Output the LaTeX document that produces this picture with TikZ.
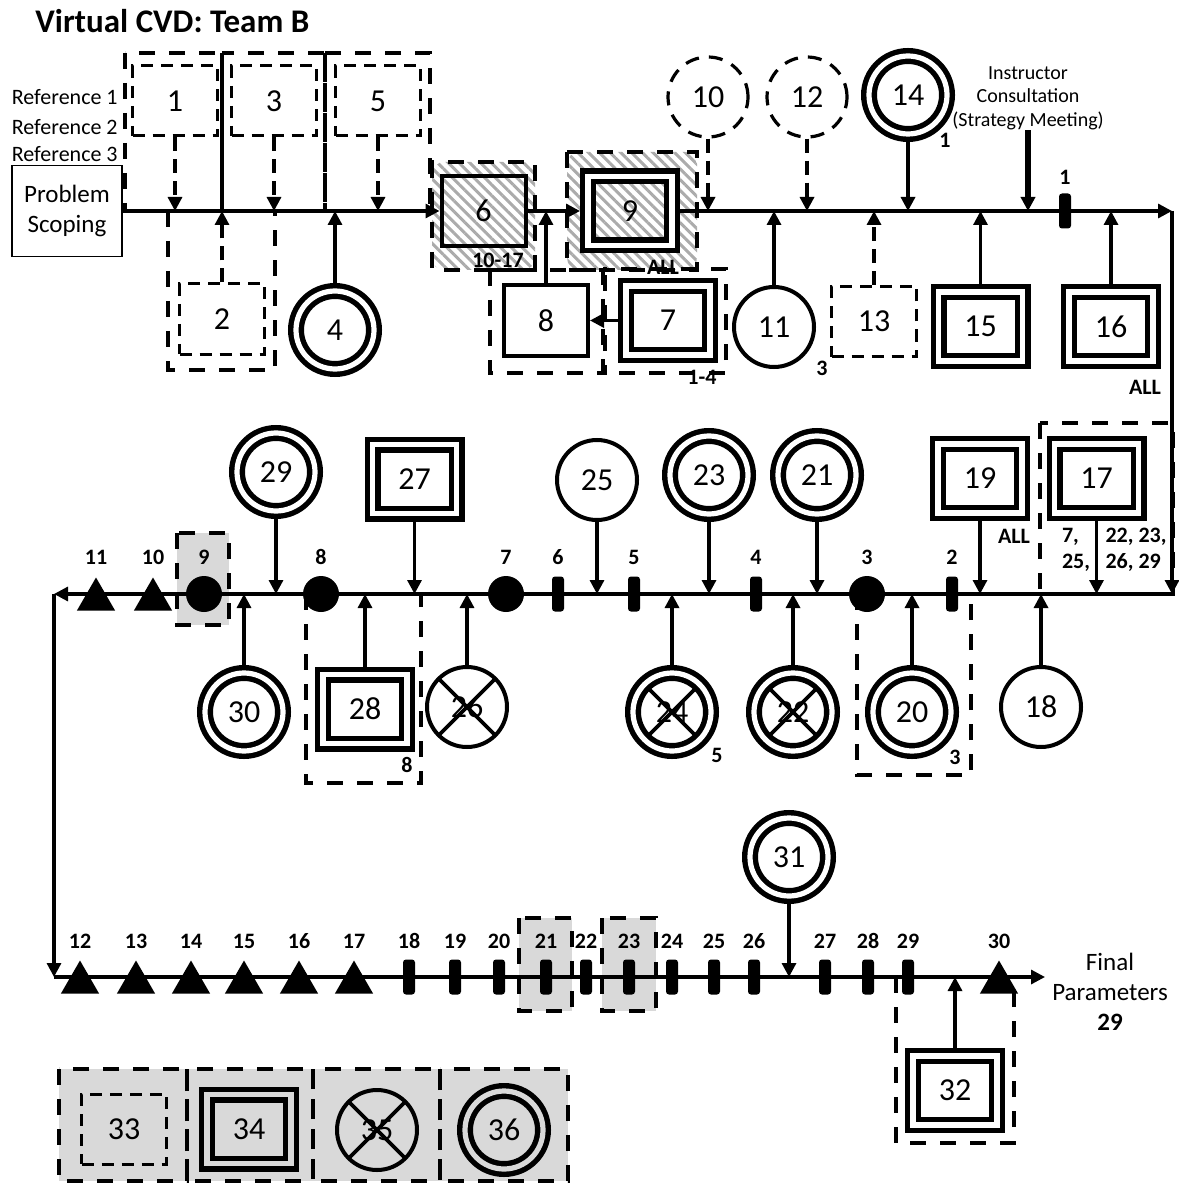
\documentclass[tikz,border=0pt]{standalone}
\usepackage{fontspec}
\setmainfont{Carlito}
\usetikzlibrary{arrows.meta,shapes.geometric,patterns.meta}

\begin{document}
\begin{tikzpicture}[x=.5pt,y=-.5pt,
  every node/.style={inner sep=0pt},
  num/.style={font=\fontsize{16}{18}\selectfont},
  lbl/.style={font=\bfseries\fontsize{11}{13}\selectfont},
  sbox/.style={num,draw,line width=2pt,minimum width=42pt,minimum height=35pt},
  dbox/.style={num,draw,line width=2.7pt,double,double distance=2.6pt,minimum width=42pt,minimum height=34.5pt,outer sep=4pt},
  hbox/.style={num,draw,line width=1.5pt,dash pattern=on 6pt off 4pt,minimum width=42.5pt,minimum height=35pt},
  scirc/.style={num,circle,draw,line width=2pt,minimum size=40pt},
  dcirc/.style={num,circle,draw,line width=2.7pt,double,double distance=2.6pt,minimum size=39pt,outer sep=4pt},
  hcirc/.style={scirc,line width=1.6pt,dash pattern=on 7pt off 5pt},
  xcirc/.style={path picture={\draw[line width=1.8pt] (path picture bounding box.north west) -- (path picture bounding box.south east) (path picture bounding box.north east) -- (path picture bounding box.south west);}},
  tk/.style={fill,rounded corners=1.5pt,minimum width=6pt,minimum height=17.5pt},
  blob/.style={circle,fill,minimum size=18pt},
  tri/.style={regular polygon,regular polygon sides=3,fill,minimum size=22pt,yshift=-2.75pt},
  arr/.style={line width=1.6pt,-{Triangle[length=7pt,width=7pt]}},
  darr/.style={arr,dash pattern=on 7pt off 4pt},
  grp/.style={line width=2.4pt,dash pattern=on 8pt off 7pt},
  hatch/.style={pattern={Lines[angle=-45,distance=3.8pt,line width=1.5pt]},pattern color=black!33},
  greyfill/.style={fill=black!15}]
  \useasboundingbox (0,0) rectangle (1178,1187);

  % backgrounds
  \fill[hatch,rounded corners=6pt] (432,162) rectangle (535,270);
  \fill[hatch,rounded corners=6pt] (567,152) rectangle (697,270);
  \fill[greyfill] (177,533) rectangle (229,625);
  \fill[greyfill] (519,918) rectangle (572,1011); \fill[greyfill] (602,918) rectangle (656,1011);
  \foreach \a/\b in {59/187,187/313,313/440,440/568} {\fill[greyfill] (\a,1069) rectangle (\b,1181);}

  \node[font=\bfseries\fontsize{16.5}{19}\selectfont,anchor=west] (title) at (35,21) {Virtual CVD: Team B};

  % first line
  \node[draw,line width=.8pt,minimum width=55pt,minimum height=45.5pt,align=center,font=\fontsize{12.5}{15}\selectfont] (scope) at (67,211) {Problem\\Scoping};
  \node[anchor=east,font=\fontsize{11}{13}\selectfont] (ref1) at (118,97) {Reference 1};
  \node[anchor=east,font=\fontsize{11}{13}\selectfont] (ref2) at (118,127) {Reference 2};
  \node[anchor=east,font=\fontsize{11}{13}\selectfont] (ref3) at (118,154) {Reference 3};
  \node[hbox] (n1) at (175,101) {1};
  \node[hbox] (n2) at (222,319) {2};
  \node[hbox] (n3) at (274,101) {3};
  \node[dcirc] (n4) at (335,330) {4};
  \node[hbox] (n5) at (378,101) {5};
  \node[sbox] (n6) at (483.5,211) {6};
  \node[dbox] (n7) at (668,320.5) {7};
  \node[sbox] (n8) at (546,320.5) {8};
  \node[dbox] (n9) at (630,211) {9};
  \node[hcirc] (n10) at (708,97) {10};
  \node[scirc] (n11) at (774,327) {11};
  \node[hcirc] (n12) at (807,97) {12};
  \node[hbox] (n13) at (874,321.5) {13};
  \node[dcirc] (n14) at (908,95) {14};
  \node[dbox] (n15) at (980.5,326.5) {15};
  \node[dbox] (n16) at (1111,326.5) {16};
  \node[align=center,font=\fontsize{10}{11.75}\selectfont] (instr) at (1028,98) {Instructor\\Consultation\\(Strategy Meeting)};
  \coordinate (c1) at (1172,211);
  \draw[arr] (scope) -- (n6); \draw[arr] (n6) -- (n9); \draw[arr] (n9) -- (c1);
  \node[tk] (m1) at (1065,211) {}; \node[lbl] (k1) at (1065,177) {1};
  \draw[darr] (n1) -- (n1 |- c1); \draw[darr] (n2) -- (n2 |- c1); \draw[darr] (n3) -- (n3 |- c1);
  \draw[arr] (n4) -- (n4 |- c1); \draw[darr] (n5) -- (n5 |- c1);
  \draw[arr] (n7) -- (n8); \draw[arr] (n8) -- (n8 |- c1);
  \draw[darr] (n10) -- (n10 |- c1); \draw[arr] (n11) -- (n11 |- c1);
  \draw[darr] (n12) -- (n12 |- c1); \draw[darr] (n13) -- (n13 |- c1);
  \draw[arr] (n14) -- (n14 |- c1); \draw[arr,line width=3pt] (instr) -- (instr |- c1);
  \draw[arr] (n15) -- (n15 |- c1); \draw[arr] (n16) -- (n16 |- c1);
  \node[lbl] (l6) at (498,260) {10-17}; \node[lbl] (l9) at (663,267) {ALL};
  \node[lbl] (l7) at (702,377) {1-4}; \node[lbl] (l11) at (822,368) {3};
  \node[lbl] (l14) at (945,140) {1}; \node[lbl] (l16) at (1145,387) {ALL};
  \draw[grp] (125,53) rectangle (222,211); \draw[grp] (222,53) rectangle (325,211);
  \draw[line width=2.4pt] (222,53) -- (222,211);
  \draw[grp] (325,53) rectangle (430,211); \draw[grp] (168,211) rectangle (275,370);
  \draw[grp] (432,162) rectangle (535,270); \draw[grp] (567,152) rectangle (697,270);
  \draw[grp] (490,270) rectangle (605,373); \draw[grp] (603,269) rectangle (726,373);

  % second line
  \coordinate (c2) at (1172,594); \coordinate (c3) at (54,594);
  \draw[arr] (c1) -- (c2); \draw[arr] (c2) -- (c3);
  \foreach \x/\n in {96/11,153/10} {\node[tri] (m\n) at (\x,594) {}; \node[lbl] (k\n) at (\x,557) {\n};}
  \foreach \x/\n in {204/9,321/8,506/7,867/3} {\node[blob] (m\n) at (\x,594) {}; \node[lbl] (k\n) at (\x,557) {\n};}
  \foreach \x/\n in {558/6,634/5,756/4,952/2} {\node[tk] (m\n) at (\x,594) {}; \node[lbl] (k\n) at (\x,557) {\n};}
  \node[dcirc] (n29) at (276,472) {29};
  \node[dbox] (n27) at (414.5,479) {27};
  \node[scirc] (n25) at (597,480) {25};
  \node[dcirc] (n23) at (709,475) {23};
  \node[dcirc] (n21) at (817,475) {21};
  \node[dbox] (n19) at (980,478.5) {19};
  \node[dbox] (n17) at (1096.5,478.5) {17};
  \node[dcirc] (n30) at (244,712) {30};
  \node[dbox] (n28) at (365,709) {28};
  \node[scirc,xcirc] (n26) at (467,707) {26};
  \node[dcirc,xcirc] (n24) at (672,712) {24};
  \node[dcirc,xcirc] (n22) at (793,712) {22};
  \node[dcirc] (n20) at (912,712) {20};
  \node[scirc] (n18) at (1041,707) {18};
  \foreach \n in {29,27,25,23,21,19,17} {\draw[arr] (n\n) -- (n\n |- c2);}
  \foreach \n in {30,28,26,24,22,20,18} {\draw[arr] (n\n) -- (n\n |- c2);}
  \node[lbl] (l19) at (1014,536) {ALL};
  \node[lbl,align=left] (l17a) at (1076,550) {7,\\25,};
  \node[lbl,align=left] (l17b) at (1136,550) {22, 23,\\26, 29};
  \node[lbl] (l28) at (407,765) {8}; \node[lbl] (l24) at (717,755) {5}; \node[lbl] (l20) at (955,757) {3};
  \draw[grp] (177,533) rectangle (229,625); \draw[grp] (306,594) rectangle (421,783);
  \draw[grp] (857,594) rectangle (971,775); \draw[grp] (1040,423) rectangle (1173,594);

  % third line
  \coordinate (c4) at (54,977); \coordinate (fin) at (1045,977);
  \draw[arr] (c3) -- (c4); \draw[arr] (c4) -- (fin);
  \node[align=center,font=\fontsize{12.5}{15}\selectfont] (final) at (1110,992) {Final\\Parameters\\\textbf{29}};
  \foreach \x/\n in {80/12,136/13,191/14,244/15,299/16,354/17,999/30} {\node[tri] (m\n) at (\x,977) {}; \node[lbl] (k\n) at (\x,941) {\n};}
  \foreach \x/\n in {409/18,455/19,499/20,546/21,586/22,629/23,672/24,714/25,754/26,825/27,868/28,908/29} {\node[tk] (m\n) at (\x,977) {}; \node[lbl] (k\n) at (\x,941) {\n};}
  \node[dcirc] (n31) at (789,857) {31}; \draw[arr] (n31) -- (n31 |- c4);
  \node[dbox] (n32) at (955,1090.5) {32}; \draw[arr] (n32) -- (n32 |- c4);
  \draw[grp] (519,918) rectangle (572,1011); \draw[grp] (602,918) rectangle (656,1011);
  \draw[grp] (896,977) rectangle (1014,1143);

  % legend
  \node[hbox] (n33) at (124,1129) {33};
  \node[dbox,double=black!15] (n34) at (249,1129) {34};
  \node[scirc,xcirc] (n35) at (377,1130) {35};
  \node[dcirc,double=black!15] (n36) at (504,1130) {36};
  \foreach \a/\b in {59/187,187/313,313/440,440/568} {\draw[grp] (\a,1069) rectangle (\b,1181);}
\end{tikzpicture}
\end{document}
